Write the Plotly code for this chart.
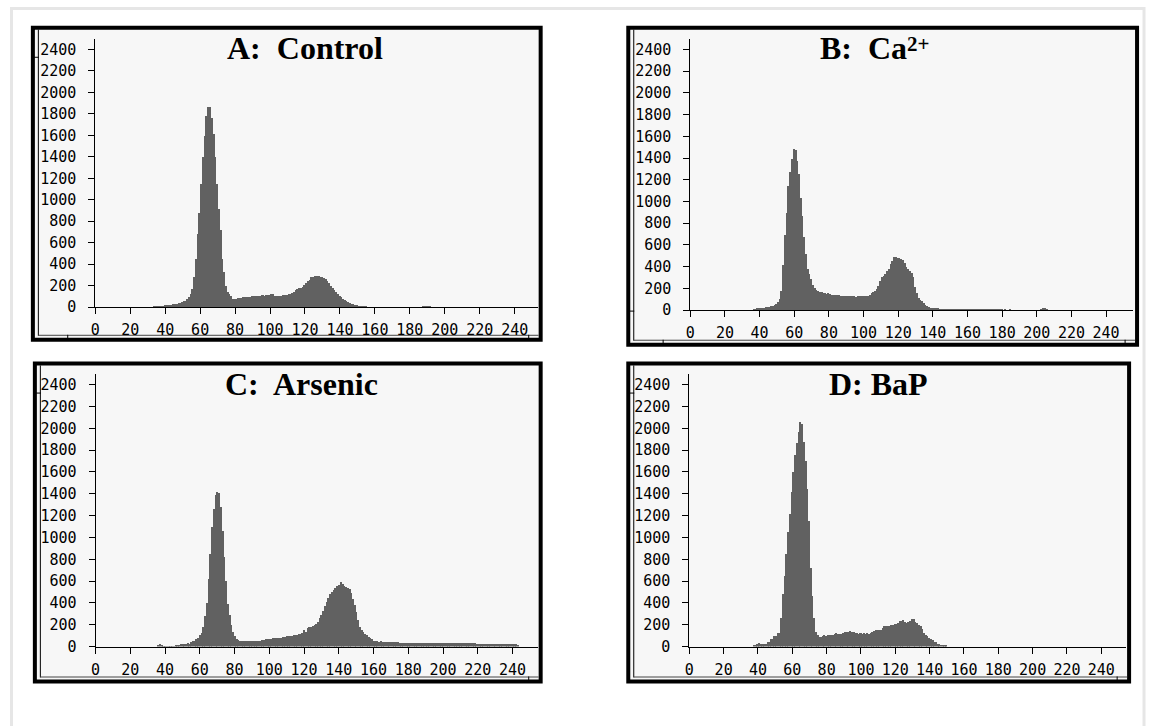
import plotly.graph_objects as go

# ---------------- data (counts per channel) ----------------
A_start = 30
A_counts = [
    0, 0, 0, 0, 5, 15, 15, 18, 15, 18,                      # 30-39
    22, 25, 25, 28, 25, 30, 30, 32, 42, 45,                 # 40-49
    48, 58, 62, 80, 100, 130, 170, 280, 450, 680,           # 50-59
    880, 1150, 1400, 1600, 1780, 1870, 1870, 1760, 1620, 1400,  # 60-69
    1150, 920, 720, 450, 330, 200, 140, 125, 110, 80,       # 70-79
    75, 80, 85, 90, 92, 95, 95, 100, 100, 100,              # 80-89
    105, 105, 108, 108, 110, 110, 112, 110, 112, 115,       # 90-99
    120, 130, 125, 110, 108, 108, 110, 110, 112, 115,       # 100-109
    120, 125, 130, 132, 140, 160, 175, 180, 185, 195,       # 110-119
    210, 225, 245, 260, 280, 285, 290, 290, 290, 285,       # 120-129
    280, 275, 265, 245, 225, 200, 180, 165, 148, 130,       # 130-139
    110, 95, 80, 70, 60, 50, 45, 35, 30, 25,                # 140-149
    20, 15, 12, 10, 8, 5, 4, 3, 3, 2,                       # 150-159
    0, 0, 0, 0, 0, 0, 0, 0, 0, 0,                           # 160-169
    0, 0, 0, 0, 0, 0, 0, 0, 0, 0,                           # 170-179
    0, 0, 0, 0, 0, 0, 0, 0, 15, 18,                         # 180-189
    18, 18, 15, 0,                                          # 190-193
]

B_start = 30
B_counts = [
    0, 0, 0, 0, 0, 0, 0, 10, 15, 25,                        # 30-39
    25, 28, 25, 28, 30, 35, 35, 38, 45, 48,                 # 40-49
    60, 80, 110, 180, 420, 700, 900, 1150, 1280, 1400,      # 50-59
    1490, 1480, 1380, 1260, 1040, 870, 680, 520, 380, 340,  # 60-69
    290, 240, 210, 190, 180, 175, 172, 160, 158, 155,       # 70-79
    158, 150, 148, 145, 140, 145, 142, 135, 130, 135,       # 80-89
    130, 132, 130, 130, 135, 130, 128, 132, 135, 132,       # 90-99
    130, 135, 138, 136, 140, 165, 175, 182, 200, 225,       # 100-109
    270, 305, 320, 335, 360, 380, 430, 460, 495, 490,       # 110-119
    480, 480, 478, 470, 440, 400, 380, 360, 348, 305,       # 120-129
    215, 160, 120, 100, 90, 70, 55, 40, 30, 25,             # 130-139
    24, 22, 21, 20, 15, 12, 10, 10, 9, 10,                  # 140-149
    10, 9, 10, 10, 8, 9, 10, 9, 8, 8,                       # 150-159
    8, 9, 8, 8, 7, 8, 8, 7, 8, 7,                           # 160-169
    7, 7, 6, 7, 7, 6, 6, 7, 6, 6,                           # 170-179
    6, 5, 6, 5, 5, 6, 5, 5, 5, 5,                           # 180-189
    5, 4, 4, 5, 4, 4, 4, 4, 4, 4,                           # 190-199
    4, 4, 4, 18, 20, 20, 18, 0,                             # 200-207
]

C_start = 30
C_counts = [
    0, 0, 0, 0, 0, 0, 15, 22, 20, 5,                        # 30-39
    5, 5, 6, 5, 5, 6, 18, 20, 20, 22,                       # 40-49
    28, 30, 30, 32, 30, 48, 50, 52, 70, 85,                 # 50-59
    105, 130, 180, 280, 400, 620, 850, 1100, 1260, 1390,    # 60-69
    1420, 1410, 1280, 1060, 820, 600, 390, 290, 200, 140,   # 70-79
    95, 70, 62, 58, 57, 58, 56, 58, 57, 55,                 # 80-89
    58, 56, 55, 50, 50, 52, 60, 65, 68, 70,                 # 90-99
    70, 75, 78, 78, 80, 82, 85, 85, 88, 92,                 # 100-109
    95, 95, 98, 102, 105, 108, 112, 115, 118, 125,          # 110-119
    150, 135, 170, 180, 185, 190, 200, 210, 230, 260,       # 120-129
    290, 330, 370, 410, 445, 480, 505, 520, 535, 555,       # 130-139
    570, 595, 580, 560, 550, 540, 530, 490, 440, 380,       # 140-149
    320, 250, 180, 150, 140, 120, 110, 90, 80, 70,          # 150-159
    52, 50, 50, 48, 50, 45, 44, 45, 46, 44,                 # 160-169
    45, 44, 45, 44, 40, 38, 33, 34, 33, 32,                 # 170-179
    33, 33, 34, 33, 32, 33, 33, 34, 33, 32,                 # 180-189
    33, 34, 33, 33, 32, 33, 34, 33, 33, 32,                 # 190-199
    33, 33, 34, 33, 32, 33, 33, 34, 33, 32,                 # 200-209
    33, 33, 32, 33, 34, 33, 32, 33, 33, 24,                 # 210-219
    24, 25, 24, 24, 23, 24, 25, 24, 24, 23,                 # 220-229
    24, 24, 25, 24, 23, 24, 24, 25, 24, 23,                 # 230-239
    24, 24, 22, 10, 0,                                      # 240-244
]

D_start = 30
D_counts = [
    0, 0, 0, 0, 0, 0, 0, 0, 10, 18,                         # 30-39
    30, 32, 30, 28, 22, 22, 45, 45, 70, 70,                 # 40-49
    100, 100, 130, 130, 260, 480, 650, 850, 1050, 1220,     # 50-59
    1420, 1600, 1760, 1870, 1970, 2060, 2040, 1880, 1700, 1450,  # 60-69
    1150, 720, 470, 260, 140, 110, 90, 92, 100, 105,        # 70-79
    100, 108, 105, 112, 110, 120, 125, 118, 122, 115,       # 80-89
    128, 135, 140, 138, 142, 140, 135, 130, 128, 122,       # 90-99
    125, 120, 128, 122, 125, 120, 125, 135, 145, 150,       # 100-109
    155, 152, 155, 175, 190, 192, 195, 195, 200, 198,       # 110-119
    205, 210, 215, 235, 240, 245, 225, 220, 225, 240,       # 120-129
    258, 255, 230, 215, 200, 195, 165, 130, 110, 95,        # 130-139
    85, 70, 60, 48, 40, 30, 22, 18, 14, 12,                 # 140-149
    8, 0,                                                   # 150-151
]

titles = ["A:\u00a0 Control", "B:\u00a0 Ca", "C:\u00a0 Arsenic", "D: BaP"]
title_sup = "2+"
y_ticks = list(range(0, 2401, 200))
x_ticks = list(range(0, 241, 20))

# ---------------- geometry (pixels) ----------------
W, H = 1150, 726
def fx(x):
    return x / W
def fy(y):
    return 1 - y / H

panels = [
    dict(frame=(28, 28, 538, 344), x0=90.7, xu=1.755, xend=535, y0=311.0, yu=0.10875, tx=222, ty=48.5,
         start=A_start, counts=A_counts, title=titles[0], notch_x=63, notch_y=58),
    dict(frame=(626, 28, 1137, 349), x0=688.3, xu=1.74, xend=1133, y0=314.0, yu=0.110, tx=818, ty=48.5,
         start=B_start, counts=B_counts, title=titles[1], notch_x=661, notch_y=315),
    dict(frame=(30, 368, 538, 690), x0=91.0, xu=1.745, xend=535, y0=654.7, yu=0.1105, tx=220, ty=388.5,
         start=C_start, counts=C_counts, title=titles[2], notch_x=None, notch_y=398),
    dict(frame=(626, 368, 1129, 690), x0=687.3, xu=1.724, xend=1126, y0=654.7, yu=0.1105, tx=827, ty=388.5,
         start=D_start, counts=D_counts, title=titles[3], notch_x=None, notch_y=398),
]

BAR = "#616161"
BG = "#f7f7f7"
TICKFONT = dict(family="DejaVu Sans Mono", size=15, color="black")

fig = go.Figure()
shapes = []
annotations = []

# light grey outer frame of the picture (runs off the bottom edge)
shapes.append(dict(type="rect", xref="paper", yref="paper", x0=fx(6.5), x1=fx(1144), y0=fy(740), y1=fy(8.5),
                   line=dict(color="#e6e6e6", width=3), fillcolor="rgba(0,0,0,0)", layer="below"))

for i, p in enumerate(panels):
    n = i + 1
    xa = "x" if n == 1 else f"x{n}"
    ya = "y" if n == 1 else f"y{n}"
    xs = list(range(p["start"], p["start"] + len(p["counts"])))
    fig.add_trace(go.Bar(x=xs, y=p["counts"], width=1.0, marker=dict(color=BAR, line=dict(width=0)),
                         xaxis=xa, yaxis=ya, showlegend=False, hoverinfo="x+y"))

    xmax = (p["xend"] - p["x0"]) / p["xu"]
    ytop_px = p["y0"] - 2500 * p["yu"]
    xaxis = dict(domain=[fx(p["x0"]), fx(p["xend"])], range=[0, xmax], anchor=ya,
                 showline=True, linecolor="black", linewidth=1, mirror=False,
                 ticks="outside", ticklen=6, tickwidth=1, tickcolor="black",
                 tickvals=x_ticks, ticktext=[str(v) for v in x_ticks], tickfont=TICKFONT,
                 ticklabelstandoff=3, showgrid=False, zeroline=False, fixedrange=True)
    yaxis = dict(domain=[fy(p["y0"]), fy(ytop_px)], range=[0, 2500], anchor=xa,
                 showline=True, linecolor="black", linewidth=1,
                 ticks="outside", ticklen=6, tickwidth=1, tickcolor="black",
                 tickvals=y_ticks, ticktext=[str(v) for v in y_ticks], tickfont=TICKFONT,
                 ticklabelstandoff=9, showgrid=False, zeroline=False, fixedrange=True)
    fig.update_layout(**{("xaxis" if n == 1 else f"xaxis{n}"): xaxis,
                         ("yaxis" if n == 1 else f"yaxis{n}"): yaxis})

    l, t, r, b = p["frame"]
    # panel frame (thick black border, light fill)
    shapes.append(dict(type="rect", xref="paper", yref="paper", x0=fx(l), x1=fx(r), y0=fy(b), y1=fy(t),
                       line=dict(color="black", width=4), fillcolor=BG, layer="below"))
    # thin inner line on the left side and along the bottom
    shapes.append(dict(type="line", xref="paper", yref="paper", x0=fx(l + 5.5), x1=fx(l + 5.5), y0=fy(b - 4), y1=fy(t + 2),
                       line=dict(color="black", width=1), layer="below"))
    shapes.append(dict(type="line", xref="paper", yref="paper", x0=fx(l + 5.5), x1=fx(r - 2), y0=fy(b - 4.5), y1=fy(b - 4.5),
                       line=dict(color="#444444", width=1), layer="below"))
    # small scroll-bar remnants
    if p["notch_x"] is not None:
        shapes.append(dict(type="line", xref="paper", yref="paper", x0=fx(p["notch_x"]), x1=fx(p["notch_x"]),
                           y0=fy(b - 1), y1=fy(b - 5), line=dict(color="black", width=1), layer="below"))
    shapes.append(dict(type="line", xref="paper", yref="paper", x0=fx(l + 1), x1=fx(l + 6),
                       y0=fy(p["notch_y"]), y1=fy(p["notch_y"]), line=dict(color="black", width=1), layer="below"))
    shapes.append(dict(type="line", xref="paper", yref="paper", x0=fx(r - 12), x1=fx(r - 12),
                       y0=fy(b - 1), y1=fy(b - 5), line=dict(color="black", width=1), layer="below"))

    annotations.append(dict(xref="paper", yref="paper", x=fx(p["tx"]), y=fy(p["ty"]), text="<b>" + p["title"] + "</b>",
                            showarrow=False, xanchor="left", yanchor="middle", borderpad=0,
                            font=dict(family="Liberation Serif", size=32, color="black")))

# superscript of the Ca2+ title
annotations.append(dict(xref="paper", yref="paper", x=fx(905), y=fy(45), text="<b>" + title_sup + "</b>",
                        showarrow=False, xanchor="left", yanchor="middle", borderpad=0,
                        font=dict(family="Liberation Serif", size=21, color="black")))

fig.update_layout(width=W, height=H, margin=dict(l=0, r=0, t=0, b=0),
                  paper_bgcolor="white", plot_bgcolor=BG, bargap=0,
                  shapes=shapes, annotations=annotations, showlegend=False)

fig.write_html("out.html")
